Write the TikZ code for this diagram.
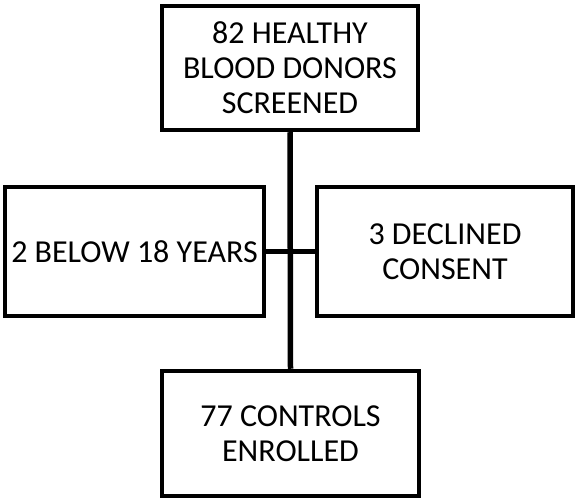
\documentclass[tikz,border=0pt]{standalone}
\usepackage{fontspec}
\setmainfont{Carlito}
\tikzset{
    flowbox/.style={draw,line width=4.5pt,align=center,inner sep=0pt,
        font=\fontsize{32}{35}\selectfont},
    link/.style={line width=5.5pt}
}

\begin{document}
\begin{tikzpicture}[x=1pt,y=-1pt]
        \useasboundingbox (0,0) rectangle (575,502);
        \node[flowbox,minimum width=256pt,minimum height=124pt] (screened) at (290,68) {82 HEALTHY\\BLOOD DONORS\\SCREENED};
        \node[flowbox,minimum width=259pt,minimum height=129pt] (below) at (134.5,251.5) {2 BELOW 18 YEARS};
        \node[flowbox,minimum width=256pt,minimum height=129pt] (declined) at (445,251.5) {3 DECLINED\\CONSENT};
        \node[flowbox,minimum width=257pt,minimum height=125pt] (enrolled) at (290.5,433.5) {77 CONTROLS\\ENROLLED};
        \draw[link] (screened.south) -- (enrolled.north);
        \draw[link] (below.east) -- (declined.west);
    \end{tikzpicture}
\end{document}
